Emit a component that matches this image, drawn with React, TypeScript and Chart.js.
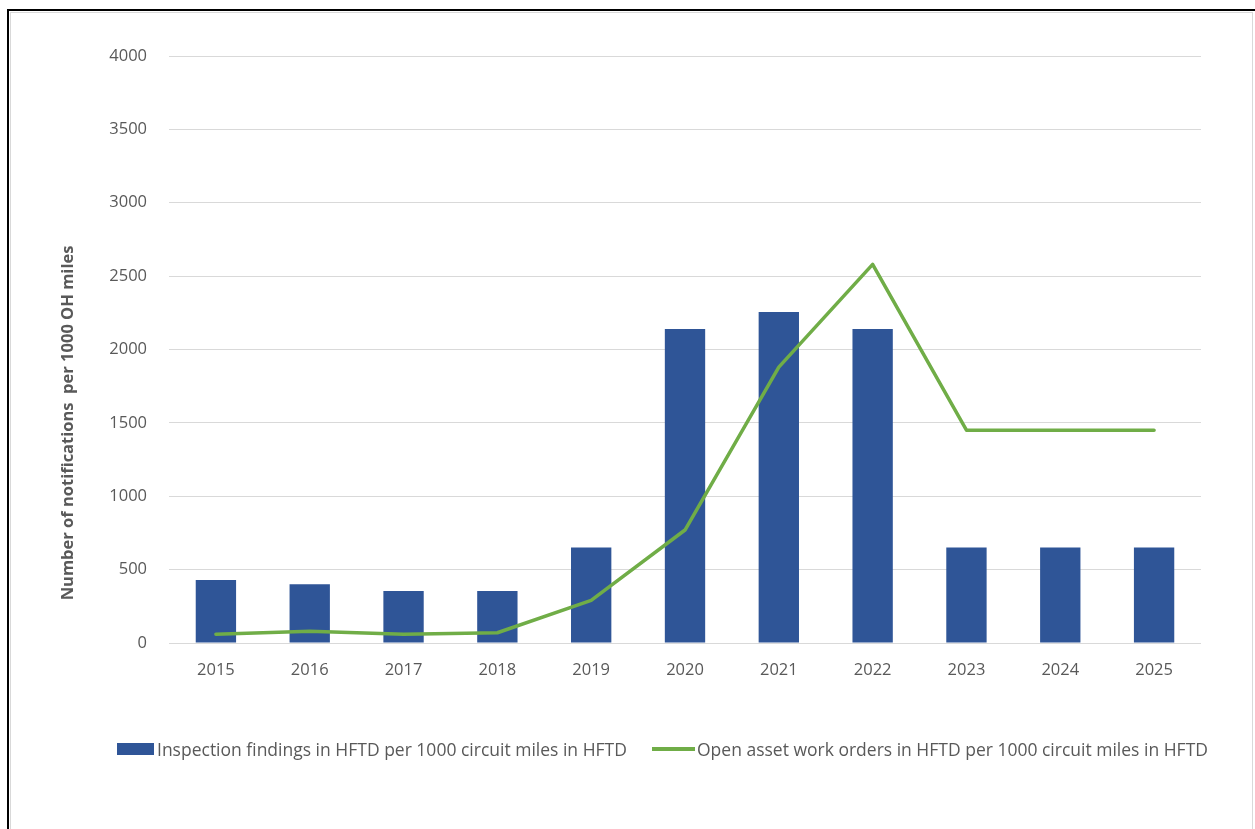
import React, { useEffect, useRef } from "react";
import { Chart, registerables } from "chart.js";

Chart.register(...registerables);

const years = ["2015", "2016", "2017", "2018", "2019", "2020", "2021", "2022", "2023", "2024", "2025"];
const inspectionFindings = [430, 400, 355, 355, 650, 2140, 2255, 2140, 650, 650, 650];
const openWorkOrders = [60, 80, 60, 70, 290, 770, 1880, 2580, 1450, 1450, 1450];
const yMin = 0;
const yMax = 4000;
const yStep = 500;

const barLabel = "Inspection findings in HFTD per 1000 circuit miles in HFTD";
const lineLabel = "Open asset work orders in HFTD per 1000 circuit miles in HFTD";
const yTitle = "Number of notifications  per 1000 OH miles";

const BAR_COLOR = "#2F5597";
const LINE_COLOR = "#70AD47";
const TEXT_COLOR = "#595959";
const GRID_COLOR = "#D9D9D9";
const FONT = "'Open Sans', sans-serif";

export default function App() {
  const canvasRef = useRef<HTMLCanvasElement | null>(null);

  useEffect(() => {
    const canvas = canvasRef.current;
    if (!canvas) return;
    const chart = new Chart(canvas, {
      type: "bar",
      data: {
        labels: years,
        datasets: [
          {
            type: "bar",
            label: barLabel,
            data: inspectionFindings,
            backgroundColor: BAR_COLOR,
            borderWidth: 0,
            barPercentage: 0.43,
            categoryPercentage: 1,
            order: 2,
          },
          {
            type: "line",
            label: lineLabel,
            data: openWorkOrders,
            borderColor: LINE_COLOR,
            backgroundColor: LINE_COLOR,
            borderWidth: 3.5,
            pointRadius: 0,
            pointHoverRadius: 0,
            tension: 0,
            borderCapStyle: "round",
            borderJoinStyle: "round",
            fill: false,
            order: 1,
          },
        ],
      },
      options: {
        responsive: false,
        animation: false,
        devicePixelRatio: 1,
        layout: { padding: { left: 0, top: 56, right: 54, bottom: 0 } },
        plugins: {
          legend: { display: false },
          tooltip: { enabled: false },
          title: { display: false },
        },
        scales: {
          x: {
            type: "category",
            offset: true,
            grid: { display: false, drawTicks: false },
            border: { display: false },
            ticks: {
              color: TEXT_COLOR,
              font: { family: FONT, size: 16.5 },
              padding: 17,
              maxRotation: 0,
              autoSkip: false,
            },
            afterFit: (scale: any) => {
              scale.height = 186;
            },
          },
          y: {
            type: "linear",
            min: yMin,
            max: yMax,
            grid: { color: GRID_COLOR, lineWidth: 1, drawTicks: false },
            border: { display: false },
            ticks: {
              stepSize: yStep,
              color: TEXT_COLOR,
              font: { family: FONT, size: 16.5 },
              padding: 22,
              callback: (value: any) => String(value),
            },
            afterFit: (scale: any) => {
              scale.width = 169;
            },
          },
        },
      },
    });
    return () => chart.destroy();
  }, []);

  const textStyle: React.CSSProperties = {
    position: "absolute",
    fontFamily: FONT,
    fontSize: 17.5,
    color: TEXT_COLOR,
    whiteSpace: "pre",
    lineHeight: "20px",
    top: 739,
  };

  return (
    <div
      style={{
        position: "fixed",
        left: 0,
        top: 0,
        width: 1255,
        height: 829,
        background: "#fff",
        overflow: "hidden",
      }}
    >
      <canvas
        ref={canvasRef}
        width={1255}
        height={829}
        style={{ position: "absolute", left: 0, top: 0, width: 1255, height: 829, display: "block" }}
      />
      <div
        style={{
          position: "absolute",
          left: 7,
          top: 9,
          width: 1260,
          height: 840,
          borderTop: "2px solid #000",
          borderLeft: "2px solid #000",
          pointerEvents: "none",
        }}
      />
      <div
        style={{
          position: "absolute",
          left: 10,
          top: 12,
          width: 1241,
          height: 840,
          borderTop: "1px solid #D9D9D9",
          borderLeft: "1px solid #D9D9D9",
          borderRight: "1px solid #D9D9D9",
          pointerEvents: "none",
        }}
      />
      <div
        style={{
          position: "absolute",
          left: 66,
          top: 423,
          transform: "translate(-50%, -50%) rotate(-90deg)",
          fontFamily: FONT,
          fontWeight: 700,
          fontSize: 16.5,
          color: TEXT_COLOR,
          whiteSpace: "pre",
        }}
      >
        {yTitle}
      </div>
      <div style={{ position: "absolute", left: 117, top: 743, width: 37, height: 12, background: BAR_COLOR }} />
      <div style={{ ...textStyle, left: 157 }}>{barLabel}</div>
      <div style={{ position: "absolute", left: 652, top: 747, width: 43, height: 4, background: LINE_COLOR }} />
      <div style={{ ...textStyle, left: 697 }}>{lineLabel}</div>
    </div>
  );
}
